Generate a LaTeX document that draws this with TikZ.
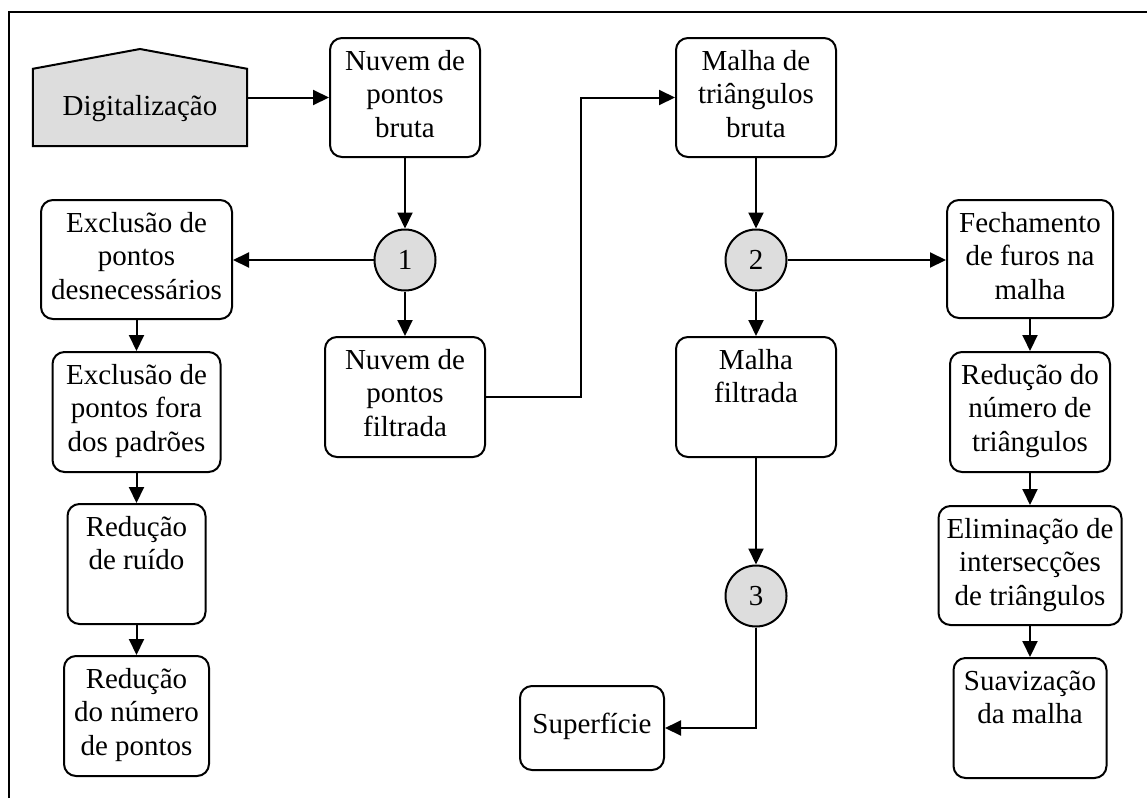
\documentclass[tikz,border=0pt]{standalone}
\usepackage{fontspec}
\setmainfont{Liberation Serif}
\usetikzlibrary{arrows.meta,calc}
\definecolor{shade}{RGB}{221,221,221}
\newcommand{\lns}[1]{\vtop{\halign{\hfil##\hfil\cr#1\crcr}}}
\begin{document}
\begin{tikzpicture}[x=1pt,y=-1pt,
  font=\fontsize{29pt}{33.5pt}\selectfont,
  box/.style={draw, line width=2pt, rounded corners=12pt, inner sep=0pt},
  txt/.style={inner sep=0pt, anchor=base},
  circ/.style={draw, circle, fill=shade, line width=2pt, minimum size=61pt, inner sep=0pt},
  arr/.style={line width=2pt, -{Triangle[length=16pt,width=15pt]}},
  frame/.style={line width=2pt}]
\useasboundingbox (0,0) rectangle (1147,798);
\draw[frame] (9,798) -- (9,12) -- (1147,12);

% Digitalizacao
\node[minimum width=214, minimum height=77, inner sep=0pt] (dig) at (140,107.5) {};
\draw[line width=2pt, fill=shade] (dig.south west) -- (dig.north west) -- (140,49) -- (dig.north east) -- (dig.south east) -- cycle;
\node[txt] (tdig) at (140,115) {Digitalização};

% boxes
\node[box, minimum width=150, minimum height=119] (bruta1) at (405,97.5) {};
\node[box, minimum width=191, minimum height=119] (excl1) at (136.5,259.5) {};
\node[box, minimum width=168, minimum height=120] (excl2) at (136.5,412) {};
\node[box, minimum width=138, minimum height=120] (ruido) at (136.5,564) {};
\node[box, minimum width=145, minimum height=120] (redpts) at (136.5,716) {};
\node[box, minimum width=160, minimum height=120] (filtr) at (405,397) {};
\node[box, minimum width=160, minimum height=119] (mbruta) at (756,97.5) {};
\node[box, minimum width=160, minimum height=120] (mfilt) at (756,397) {};
\node[box, minimum width=144, minimum height=84] (superf) at (592,728) {};
\node[box, minimum width=166, minimum height=118] (fech) at (1030,259) {};
\node[box, minimum width=160, minimum height=120] (redtri) at (1030,412) {};
\node[box, minimum width=183, minimum height=119] (elim) at (1030,565.5) {};
\node[box, minimum width=153, minimum height=120] (suav) at (1030,718) {};

% texts
\node[txt] (tbruta1) at ($(bruta1.north)+(0,33)$) {\lns{Nuvem de\cr pontos\cr bruta}};
\node[txt] (texcl1) at ($(excl1.north)+(0,33)$) {\lns{Exclusão de\cr pontos\cr desnecessários}};
\node[txt] (texcl2) at ($(excl2.north)+(0,33)$) {\lns{Exclusão de\cr pontos fora\cr dos padrões}};
\node[txt] (truido) at ($(ruido.north)+(0,33)$) {\lns{Redução\cr de ruído}};
\node[txt] (tredpts) at ($(redpts.north)+(0,33)$) {\lns{Redução\cr do número\cr de pontos}};
\node[txt] (tfiltr) at ($(filtr.north)+(0,33)$) {\lns{Nuvem de\cr pontos\cr filtrada}};
\node[txt] (tmbruta) at ($(mbruta.north)+(0,33)$) {\lns{Malha de\cr triângulos\cr bruta}};
\node[txt] (tmfilt) at ($(mfilt.north)+(0,33)$) {\lns{Malha\cr filtrada}};
\node[txt] (tsuperf) at (592,733) {Superfície};
\node[txt] (tfech) at ($(fech.north)+(0,33)$) {\lns{Fechamento\cr de furos na\cr malha}};
\node[txt] (tredtri) at ($(redtri.north)+(0,33)$) {\lns{Redução do\cr número de\cr triângulos}};
\node[txt] (telim) at ($(elim.north)+(0,33)$) {\lns{Eliminação de\cr intersecções\cr de triângulos}};
\node[txt] (tsuav) at ($(suav.north)+(0,33)$) {\lns{Suavização\cr da malha}};

% circles
\node[circ] (c1) at (405,260) {1};
\node[circ] (c2) at (756,260) {2};
\node[circ] (c3) at (756,596) {3};

% connectors
\draw[arr] (dig.east |- bruta1.west) -- (bruta1.west);
\draw[arr] (bruta1.south) -- (c1.north);
\draw[arr] (c1.west) -- (c1.west -| excl1.east);
\draw[arr] (c1.south) -- (filtr.north);
\draw[arr] (filtr.east) -| ($(filtr.east)!.5!(mbruta.west)$) |- (mbruta.west);
\draw[arr] (mbruta.south) -- (c2.north);
\draw[arr] (c2.east) -- (c2.east -| fech.west);
\draw[arr] (c2.south) -- (mfilt.north);
\draw[arr] (mfilt.south) -- (c3.north);
\draw[arr] (c3.south) |- (superf.east);
\draw[arr] (excl1.south) -- (excl1.south |- excl2.north);
\draw[arr] (excl2.south) -- (excl2.south |- ruido.north);
\draw[arr] (ruido.south) -- (ruido.south |- redpts.north);
\draw[arr] (fech.south) -- (fech.south |- redtri.north);
\draw[arr] (redtri.south) -- (redtri.south |- elim.north);
\draw[arr] (elim.south) -- (elim.south |- suav.north);
\end{tikzpicture}
\end{document}
